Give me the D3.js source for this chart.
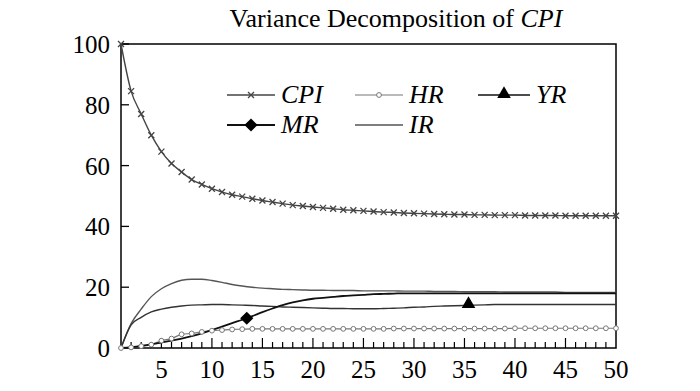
<!DOCTYPE html>
<html>
<head>
<meta charset="utf-8">
<script src="https://cdn.jsdelivr.net/npm/d3@7"></script>
<style>
  body { margin: 0; background: #fff; }
  text { font-family: "Liberation Serif", "Times New Roman", serif; }
</style>
</head>
<body>
<div class="vd-holder"></div>
<script>
// periods 1..50
var periods = d3.range(1, 51);

var cpiValues = [100, 84.5, 77, 70, 64.6, 60.7, 57.9, 55.4, 53.8, 52.4,
  51.3, 50.4, 49.8, 49.1, 48.5, 48.0, 47.5, 47.0, 46.7, 46.4,
  46.1, 45.8, 45.5, 45.3, 45.1, 44.9, 44.7, 44.6, 44.4, 44.3,
  44.2, 44.1, 44.0, 43.9, 43.9, 43.8, 43.8, 43.7, 43.7, 43.7,
  43.6, 43.6, 43.6, 43.6, 43.5, 43.5, 43.5, 43.5, 43.5, 43.5];

var hrValues = [0, 0.2, 0.6, 1.1, 2.4, 3.1, 4.5, 4.8, 5.3, 5.7,
  5.9, 6.1, 6.2, 6.3, 6.3, 6.3, 6.3, 6.3, 6.3, 6.3,
  6.3, 6.3, 6.3, 6.3, 6.3, 6.3, 6.3, 6.4, 6.4, 6.4,
  6.4, 6.4, 6.4, 6.4, 6.4, 6.4, 6.4, 6.4, 6.4, 6.5,
  6.5, 6.5, 6.5, 6.5, 6.5, 6.5, 6.5, 6.5, 6.5, 6.5];

var yrValues = [0, 7.6, 10.1, 11.9, 12.8, 13.4, 13.8, 14.1, 14.2, 14.3,
  14.3, 14.2, 14.1, 14.0, 13.8, 13.7, 13.5, 13.4, 13.3, 13.2,
  13.1, 13.0, 13.0, 12.9, 12.9, 12.9, 13.0, 13.1, 13.2, 13.4,
  13.5, 13.7, 13.8, 13.9, 14.0, 14.1, 14.2, 14.3, 14.3, 14.3,
  14.3, 14.3, 14.3, 14.3, 14.3, 14.3, 14.3, 14.3, 14.3, 14.3];

var mrValues = [0, 0.3, 0.7, 1.2, 1.8, 2.4, 3.1, 3.9, 4.8, 5.9,
  7.0, 8.2, 9.3, 10.5, 11.8, 13.0, 14.1, 15.0, 15.7, 16.2,
  16.5, 16.8, 17.1, 17.3, 17.5, 17.7, 17.8, 17.9, 18.0, 18.0,
  18.0, 18.0, 18.0, 18.0, 18.0, 18.0, 18.0, 18.0, 18.0, 18.0,
  18.0, 18.0, 18.0, 18.0, 18.0, 18.0, 18.0, 18.0, 18.0, 18.0];

var irValues = [0, 8.0, 12.8, 16.9, 19.5, 21.2, 22.3, 22.6, 22.6, 22.2,
  21.6, 20.9, 20.4, 20.0, 19.7, 19.5, 19.3, 19.2, 19.1, 19.0,
  19.0, 18.9, 18.9, 18.9, 18.8, 18.8, 18.8, 18.8, 18.7, 18.7,
  18.7, 18.6, 18.6, 18.6, 18.5, 18.5, 18.5, 18.5, 18.4, 18.4,
  18.4, 18.4, 18.4, 18.4, 18.3, 18.3, 18.3, 18.3, 18.3, 18.3];

// single markers drawn on MR and YR curves
var mrMarker = [{x: 13.45, y: 9.8}];
var yrMarker = [{x: 35.4, y: 14.1}];

var yTicks = [0, 20, 40, 60, 80, 100];
var xLabels = [5, 10, 15, 20, 25, 30, 35, 40, 45, 50];

var margin = {top: 44, right: 84, bottom: 43, left: 121};
var width = 700 - margin.left - margin.right;
var height = 391 - margin.top - margin.bottom;

var scaleX = d3.scaleLinear().domain([1, 50]).range([0, width]);
var scaleY = d3.scaleLinear().domain([0, 100]).range([height, 0]);

var svg = d3.select(".vd-holder")
  .append("svg")
  .attr("width", 700)
  .attr("height", 391);

var grp = svg.append("g").attr("transform", `translate(${margin.left}, ${margin.top})`);

/* Title */
var title = svg.append("text")
  .attr("x", 396)
  .attr("y", 27)
  .attr("text-anchor", "middle")
  .style("font-size", "26px");
title.append("tspan").text("Variance Decomposition of ");
title.append("tspan").style("font-style", "italic").text("CPI");

/* Frame */
grp.append("rect")
  .attr("width", width).attr("height", height)
  .attr("fill", "none").attr("stroke", "#000").attr("stroke-width", 1.5);

/* Y ticks point inward */
grp.append("g").selectAll("line").data(yTicks).enter().append("line")
  .attr("x1", 0).attr("x2", 8)
  .attr("y1", d => scaleY(d)).attr("y2", d => scaleY(d))
  .attr("stroke", "#000").attr("stroke-width", 1.3);

grp.append("g").selectAll("text").data(yTicks).enter().append("text")
  .attr("x", -11).attr("y", d => scaleY(d) + 9)
  .attr("text-anchor", "end")
  .style("font-size", "25px")
  .text(d => d);

/* X ticks: minor for every period, major every 5 */
grp.append("g").selectAll("line").data(periods.slice(1, 49)).enter().append("line")
  .attr("x1", d => scaleX(d)).attr("x2", d => scaleX(d))
  .attr("y1", height).attr("y2", d => d % 5 == 0 ? height - 10 : height - 6)
  .attr("stroke", "#000").attr("stroke-width", 1.2);

grp.append("g").selectAll("text").data(xLabels).enter().append("text")
  .attr("x", d => scaleX(d)).attr("y", height + 30)
  .attr("text-anchor", "middle")
  .style("font-size", "25px")
  .text(d => d);

function lineFor(values) {
  return d3.line()
    .x((d, i) => scaleX(periods[i]))
    .y(d => scaleY(d))
    .curve(d3.curveMonotoneX)(values);
}

var xPath = "M-3,-3L3,3M-3,3L3,-3";
var diamond = d3.symbol().type(d3.symbolDiamond2).size(110)();
var triangle = d3.symbol().type(d3.symbolTriangle).size(80)();

/* Series lines */
grp.append("path").attr("d", lineFor(irValues))
  .attr("fill", "none").attr("stroke", "#555").attr("stroke-width", 1.4);
grp.append("path").attr("d", lineFor(yrValues))
  .attr("fill", "none").attr("stroke", "#333").attr("stroke-width", 1.4);
grp.append("path").attr("d", lineFor(hrValues))
  .attr("fill", "none").attr("stroke", "#777").attr("stroke-width", 1.2);
grp.append("path").attr("d", lineFor(mrValues))
  .attr("fill", "none").attr("stroke", "#111").attr("stroke-width", 1.8);
grp.append("path").attr("d", lineFor(cpiValues))
  .attr("fill", "none").attr("stroke", "#444").attr("stroke-width", 1.4);

/* HR circle markers */
grp.append("g").selectAll("circle").data(hrValues).enter().append("circle")
  .attr("cx", (d, i) => scaleX(periods[i])).attr("cy", d => scaleY(d))
  .attr("r", 2.4)
  .attr("fill", "#fff").attr("stroke", "#777").attr("stroke-width", 1);

/* CPI cross markers */
grp.append("g").selectAll("path").data(cpiValues).enter().append("path")
  .attr("d", xPath)
  .attr("transform", (d, i) => `translate(${scaleX(periods[i])}, ${scaleY(d)})`)
  .attr("stroke", "#444").attr("stroke-width", 1.3).attr("fill", "none");

grp.selectAll(".mr-mark").data(mrMarker).enter().append("path")
  .attr("class", "mr-mark")
  .attr("d", diamond)
  .attr("transform", d => `translate(${scaleX(d.x)}, ${scaleY(d.y)})`)
  .attr("fill", "#000");

grp.selectAll(".yr-mark").data(yrMarker).enter().append("path")
  .attr("class", "yr-mark")
  .attr("d", triangle)
  .attr("transform", d => `translate(${scaleX(d.x)}, ${scaleY(d.y) - 1})`)
  .attr("fill", "#000");

/* Legend */
var legendItems = [
  {name: "CPI", col: 0, row: 0, stroke: "#444", w: 1.4, mark: "x"},
  {name: "HR", col: 1, row: 0, stroke: "#777", w: 1.2, mark: "o"},
  {name: "YR", col: 2, row: 0, stroke: "#111", w: 1.6, mark: "tri"},
  {name: "MR", col: 0, row: 1, stroke: "#111", w: 1.8, mark: "dia"},
  {name: "IR", col: 1, row: 1, stroke: "#555", w: 1.4, mark: ""}
];
var colX = [227, 355, 478];
var rowY = [95, 125];

var legend = svg.append("g").attr("class", "legend");
legendItems.forEach(function (it) {
  var x0 = colX[it.col], y0 = rowY[it.row];
  var len = it.col == 2 ? 52 : 48;
  var g = legend.append("g").attr("transform", `translate(${x0}, ${y0})`);
  g.append("line").attr("x1", 0).attr("x2", len).attr("y1", 0).attr("y2", 0)
    .attr("stroke", it.stroke).attr("stroke-width", it.w);
  if (it.mark == "x") {
    g.append("path").attr("d", xPath).attr("transform", `translate(${len / 2}, 0)`)
      .attr("stroke", "#444").attr("stroke-width", 1.3);
  } else if (it.mark == "o") {
    g.append("circle").attr("cx", len / 2).attr("cy", 0).attr("r", 2.4)
      .attr("fill", "#fff").attr("stroke", "#777");
  } else if (it.mark == "tri") {
    g.append("path").attr("d", triangle).attr("transform", `translate(${len / 2}, -1)`).attr("fill", "#000");
  } else if (it.mark == "dia") {
    g.append("path").attr("d", diamond).attr("transform", `translate(${len / 2}, 0)`).attr("fill", "#000");
  }
  g.append("text").attr("x", len + 6).attr("y", 8)
    .style("font-size", "26px").style("font-style", "italic")
    .text(it.name);
});
</script>
</body>
</html>
